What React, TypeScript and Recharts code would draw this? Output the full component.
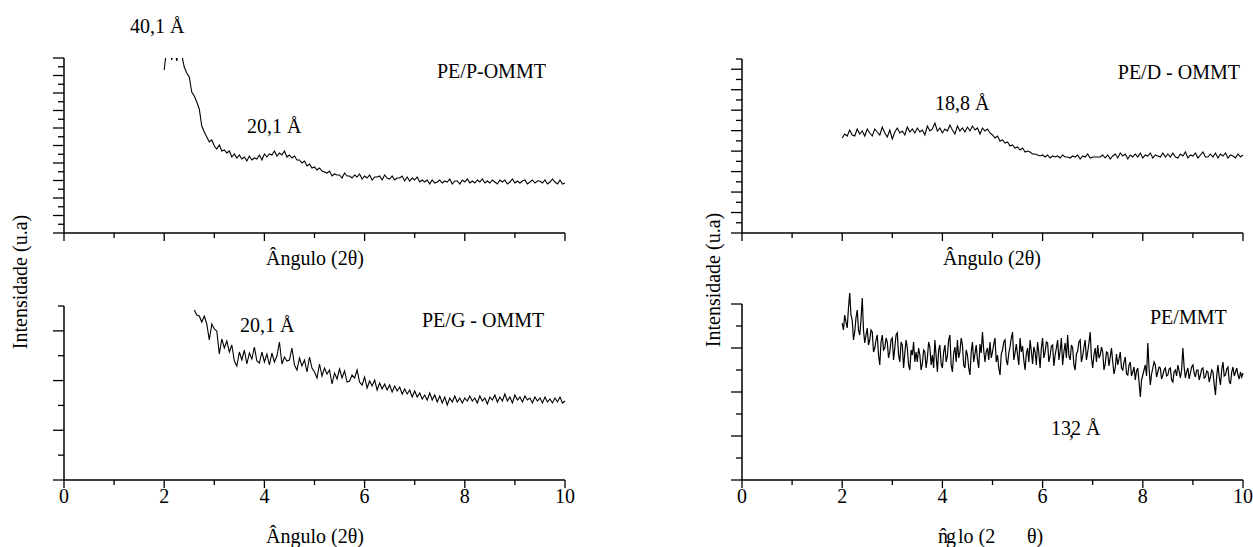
import React from 'react'
import { LineChart, Line, XAxis, YAxis, ReferenceLine } from 'recharts'

const SERIF = "'Liberation Serif', 'DejaVu Serif', serif"
const STEP = 0.05 // passo em 2θ (graus)
const STEP_FINE = 0.025

// ─── Difratogramas (intensidade em u.a.) ─────────────────────────────
const PE_P_START = 2.0
const PE_P_OMMT = [
  163, 185, 190, 173, 188, 172, 185, 178, 166, 160,
  156, 141, 137, 131, 124, 107, 101, 96, 91, 93,
  87, 84, 88, 82, 83, 80, 82, 76, 79, 75,
  78, 74, 76, 72, 77, 73, 75, 74, 78, 73,
  79, 76, 79, 78, 82, 77, 80, 78, 82, 76,
  78, 75, 77, 73, 73, 70, 72, 67, 69, 65,
  66, 63, 65, 62, 61, 60, 62, 57, 59, 58,
  58, 55, 60, 57, 57, 55, 58, 56, 59, 54,
  57, 55, 58, 53, 56, 56, 57, 53, 58, 55,
  54, 57, 53, 55, 55, 57, 52, 56, 52, 55,
  53, 56, 51, 53, 51, 53, 49, 53, 50, 51,
  53, 50, 52, 51, 54, 49, 52, 52, 49, 53,
  51, 54, 50, 52, 50, 53, 51, 54, 50, 52,
  50, 53, 51, 49, 53, 51, 53, 49, 51, 54,
  50, 52, 50, 52, 53, 49, 51, 53, 50, 52,
  52, 50, 53, 49, 51, 54, 51, 49, 53, 49, 50,
]

const PE_G_START = 2.6
const PE_G_OMMT = [
  170, 165, 164, 158, 164, 156, 140, 156, 151, 149,
  126, 141, 132, 139, 128, 135, 119, 114, 128, 120,
  130, 116, 127, 121, 133, 119, 117, 128, 118, 126,
  115, 127, 118, 124, 138, 116, 123, 119, 120, 132,
  115, 110, 122, 114, 120, 108, 123, 112, 108, 102,
  116, 104, 112, 106, 110, 96, 107, 101, 111, 102,
  109, 98, 99, 105, 102, 110, 98, 95, 103, 92,
  99, 94, 100, 90, 97, 91, 96, 90, 95, 88,
  94, 89, 93, 86, 91, 86, 90, 83, 89, 83,
  87, 81, 85, 80, 87, 80, 85, 78, 84, 77,
  83, 75, 82, 78, 84, 78, 82, 77, 82, 79,
  84, 79, 82, 77, 84, 79, 82, 76, 83, 80,
  85, 78, 83, 79, 86, 79, 83, 77, 85, 80,
  83, 78, 84, 80, 82, 77, 83, 79, 82, 77,
  83, 78, 81, 77, 82, 78, 83, 77, 79,
]

const PE_D_START = 2.0
const PE_D_OMMT = [
  95, 99, 97, 103, 98, 97, 104, 99, 102, 97,
  104, 100, 97, 104, 101, 98, 106, 100, 96, 103,
  94, 101, 105, 100, 102, 98, 106, 101, 104, 100,
  105, 101, 103, 98, 107, 102, 104, 110, 102, 105,
  100, 104, 102, 108, 103, 99, 107, 102, 105, 101,
  106, 102, 107, 103, 105, 99, 105, 102, 104, 100,
  98, 95, 97, 92, 93, 90, 91, 87, 88, 85,
  86, 83, 85, 81, 82, 81, 79, 79, 78, 77,
  78, 76, 78, 75, 77, 76, 77, 75, 78, 76,
  76, 75, 77, 76, 78, 74, 77, 76, 79, 75,
  76, 76, 76, 76, 78, 75, 78, 74, 77, 79,
  75, 80, 77, 79, 74, 78, 76, 79, 76, 80,
  75, 78, 77, 80, 75, 78, 77, 76, 80, 76,
  79, 76, 80, 76, 75, 79, 77, 81, 75, 78,
  77, 80, 75, 78, 81, 76, 76, 79, 76, 80,
  75, 79, 77, 80, 75, 78, 77, 75, 79, 76, 78,
]

// passo mais fino: este difratograma é bem mais ruidoso
const PE_MMT_START = 2.0
const PE_MMT = [
  157, 150, 165, 158, 152, 172, 187, 165, 160, 140, 148, 162, 170, 150, 145, 160, 182, 150, 137, 145,
  152, 135, 140, 150, 148, 128, 132, 140, 145, 125, 115, 138, 145, 130, 132, 142, 138, 122, 128, 140,
  142, 120, 132, 145, 147, 125, 118, 138, 135, 112, 127, 140, 132, 115, 110, 130, 125, 138, 118, 128,
  118, 132, 125, 110, 116, 130, 128, 112, 122, 138, 133, 115, 125, 112, 140, 124, 108, 130, 135, 116,
  112, 128, 135, 118, 124, 140, 145, 115, 108, 127, 133, 118, 140, 122, 128, 142, 135, 115, 112, 130,
  125, 112, 105, 128, 138, 118, 126, 135, 120, 112, 136, 127, 148, 130, 118, 128, 132, 120, 138, 122,
  128, 136, 142, 118, 125, 112, 105, 126, 130, 138, 140, 120, 115, 127, 133, 142, 148, 120, 127, 136,
  125, 115, 142, 128, 134, 120, 110, 126, 132, 118, 140, 129, 116, 133, 128, 115, 138, 127, 112, 132,
  142, 122, 128, 138, 137, 118, 124, 134, 135, 114, 125, 132, 140, 120, 129, 142, 115, 128, 137, 122,
  145, 124, 120, 135, 132, 115, 110, 126, 129, 138, 140, 118, 124, 133, 140, 120, 128, 137, 148, 122,
  112, 125, 132, 118, 135, 122, 125, 133, 128, 110, 116, 128, 127, 114, 123, 132, 118, 106, 112, 126,
  115, 121, 128, 112, 110, 118, 123, 106, 105, 115, 118, 104, 108, 113, 100, 109, 112, 98, 83, 100,
  105, 110, 115, 104, 137, 112, 95, 106, 112, 118, 115, 103, 108, 113, 112, 101, 105, 110, 112, 104,
  105, 111, 112, 100, 98, 108, 110, 104, 115, 109, 102, 110, 132, 113, 102, 108, 112, 101, 107, 113,
  115, 107, 103, 110, 110, 100, 105, 111, 112, 102, 103, 109, 108, 98, 103, 110, 108, 96, 85, 104,
  115, 103, 95, 110, 118, 104, 105, 111, 113, 99, 96, 108, 113, 104, 108, 112, 105, 101, 108, 103, 107,
]

const X_TICKS = [0, 1, 2, 3, 4, 5, 6, 7, 8, 9, 10]

const toPoints = (start: number, vals: number[], step = STEP) =>
  vals.map((v, i) => ({ angle: Math.round((start + i * step) * 1000) / 1000, v }))

const yTicks = (top: number, n: number) =>
  Array.from({ length: n + 1 }, (_, i) => (top * i) / n)

const txt = { fontFamily: SERIF, fontSize: 20, fill: '#000' }

// ─── Ticks ───────────────────────────────────────────────────────────
function XTick(props: any) {
  const { x, y, payload, labels } = props
  const major = payload.value % 2 === 0
  return (
    <g>
      <line x1={x} x2={x} y1={y} y2={y + (major ? 8 : 5)} stroke="#000" strokeWidth={1.3} />
      {labels && major && (
        <text x={x} y={y + 23} textAnchor="middle" style={txt}>
          {payload.value}
        </text>
      )}
    </g>
  )
}

function YTick(props: any) {
  const { x, y, payload, step } = props
  const major = Math.round(payload.value / step) % 2 === 0
  return <line x1={x - (major ? 11 : 6)} x2={x} y1={y} y2={y} stroke="#000" strokeWidth={1.3} />
}

// ─── Painel ──────────────────────────────────────────────────────────
type PanelProps = {
  data: { angle: number; v: number }[]
  left: number
  top: number
  width: number
  height: number
  mTop: number
  mRight: number
  yWidth: number
  xHeight: number
  yMax: number
  tickTop: number
  intervals: number
  labels: boolean
  lineWidth: number
}

function Panel(p: PanelProps) {
  const ticks = yTicks(p.tickTop, p.intervals)
  const step = p.tickTop / p.intervals
  const fullAxis = p.tickTop === p.yMax
  return (
    <div style={{ position: 'absolute', left: p.left, top: p.top }}>
      <LineChart
        width={p.width}
        height={p.height}
        data={p.data}
        margin={{ top: p.mTop, right: p.mRight, bottom: 0, left: 0 }}
      >
        <XAxis
          dataKey="angle"
          type="number"
          domain={[0, 10]}
          ticks={X_TICKS}
          interval={0}
          height={p.xHeight}
          tickSize={0}
          tickMargin={0}
          tickLine={false}
          axisLine={{ stroke: '#000', strokeWidth: 1.5 }}
          tick={(t: any) => <XTick {...t} labels={p.labels} />}
        />
        <YAxis
          type="number"
          domain={[0, p.yMax]}
          ticks={ticks}
          interval={0}
          width={p.yWidth}
          tickSize={0}
          tickMargin={0}
          tickLine={false}
          allowDataOverflow
          axisLine={fullAxis ? { stroke: '#000', strokeWidth: 1.5 } : false}
          tick={(t: any) => <YTick {...t} step={step} />}
        />
        {!fullAxis && (
          <ReferenceLine
            segment={[{ x: 0, y: 0 }, { x: 0, y: p.tickTop }]}
            stroke="#000"
            strokeWidth={1.5}
            ifOverflow="visible"
          />
        )}
        <Line
          dataKey="v"
          type="linear"
          stroke="#000"
          strokeWidth={p.lineWidth}
          dot={false}
          isAnimationActive={false}
        />
      </LineChart>
    </div>
  )
}

export default function App() {
  return (
    <div style={{ position: 'absolute', left: 0, top: 0, width: 1253, height: 547, background: '#fff', fontFamily: SERIF }}>
      <Panel data={toPoints(PE_P_START, PE_P_OMMT)} left={0} top={0} width={600} height={260}
        mTop={58} mRight={35} yWidth={64} xHeight={27} yMax={175} tickTop={175} intervals={20}
        labels={false} lineWidth={1.1} />
      <Panel data={toPoints(PE_G_START, PE_G_OMMT)} left={0} top={280} width={600} height={267}
        mTop={26} mRight={35} yWidth={64} xHeight={67} yMax={174} tickTop={174} intervals={7}
        labels lineWidth={1.1} />
      <Panel data={toPoints(PE_D_START, PE_D_OMMT)} left={680} top={0} width={573} height={260}
        mTop={59} mRight={10} yWidth={62} xHeight={27} yMax={174} tickTop={174} intervals={17}
        labels={false} lineWidth={1.1} />
      <Panel data={toPoints(PE_MMT_START, PE_MMT, STEP_FINE)} left={680} top={280} width={573} height={267}
        mTop={10} mRight={10} yWidth={62} xHeight={67} yMax={190} tickTop={176} intervals={8}
        labels lineWidth={1.2} />

      <svg width={1253} height={547} style={{ position: 'absolute', left: 0, top: 0, pointerEvents: 'none' }}>
        {/* títulos dos eixos */}
        <text style={txt} x={27} y={282} textAnchor="middle" transform="rotate(-90 27 282)">Intensidade (u.a)</text>
        <text style={txt} x={720} y={280} textAnchor="middle" transform="rotate(-90 720 280)">Intensidade (u.a)</text>
        <text style={txt} x={315} y={265} textAnchor="middle">Ângulo (2θ)</text>
        <text style={txt} x={315} y={543} textAnchor="middle">Ângulo (2θ)</text>
        <text style={txt} x={992} y={265} textAnchor="middle">Ângulo (2θ)</text>
        {/* título deslocado do painel PE/MMT */}
        <text style={txt} x={938} y={543}>{'n\u0302'}</text>
        <text style={txt} x={946} y={543}>g</text>
        <text style={txt} x={958} y={543}>lo (2</text>
        <text style={txt} x={1027} y={543}>θ)</text>

        {/* amostras */}
        <text style={txt} x={437} y={78}>PE/P-OMMT</text>
        <text style={txt} x={422} y={327}>PE/G - OMMT</text>
        <text style={txt} x={1240} y={79} textAnchor="end">PE/D - OMMT</text>
        <text style={txt} x={1150} y={324}>PE/MMT</text>

        {/* espaçamentos basais */}
        <text style={txt} x={130} y={33}>40,1 Å</text>
        <text style={txt} x={247} y={133}>20,1 Å</text>
        <text style={txt} x={240} y={332}>20,1 Å</text>
        <text style={txt} x={935} y={110}>18,8 Å</text>
        <text style={txt} x={1051} y={435}>132 Å</text>
        <text style={txt} x={1069} y={437}>,</text>
      </svg>
    </div>
  )
}
